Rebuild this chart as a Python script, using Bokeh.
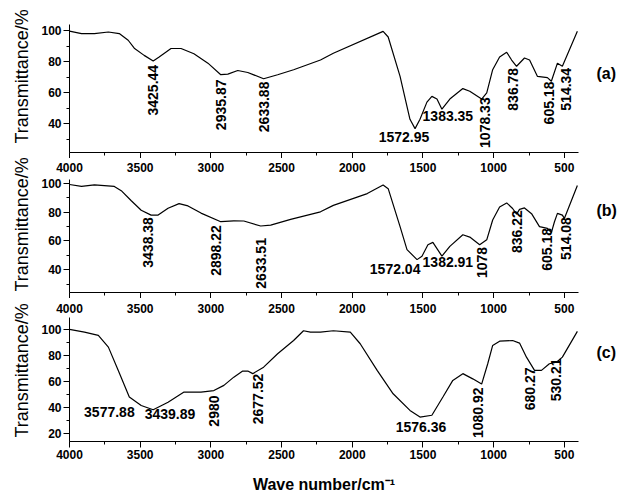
from math import pi
from bokeh.plotting import figure
from bokeh.models import Range1d, SingleIntervalTicker, FixedTicker, LinearAxis, Title
from bokeh.layouts import column
from bokeh.core.properties import value
from bokeh.embed import file_html
from bokeh.resources import INLINE

# ---------------- data (wave number cm^-1, transmittance %) ----------------
wave_a = [4000, 3915, 3824, 3725, 3648, 3585, 3542, 3472, 3408, 3366, 3282, 3211, 3120, 3021, 2930,
          2880, 2810, 2739, 2627, 2528, 2415, 2225, 2134, 1782, 1746, 1662, 1592, 1556, 1521, 1472,
          1437, 1401, 1366, 1310, 1218, 1169, 1085, 1049, 1007, 958, 908, 873, 838, 782, 746,
          690, 620, 592, 549, 514, 408]
trans_a = [99.6, 97.9, 98, 99, 98, 93.7, 88.6, 84, 80.4, 83, 88.4, 88.4, 85, 79, 71.6,
           72, 74.3, 73, 69, 71.6, 74.8, 81, 85.4, 99.4, 95.8, 70.5, 43, 37, 43, 54,
           57.7, 56, 49.5, 56, 62.7, 61, 56, 60, 74.8, 83, 86, 81, 77, 82.3, 81,
           70.5, 69.7, 67.4, 79, 77, 99.4]

wave_b = [4000, 3915, 3824, 3683, 3634, 3563, 3493, 3423, 3373, 3303, 3225, 3162, 3070, 2930, 2838,
          2767, 2648, 2577, 2436, 2225, 2134, 1894, 1782, 1746, 1662, 1613, 1542, 1507, 1465, 1430,
          1366, 1310, 1218, 1169, 1099, 1049, 1007, 958, 908, 866, 838, 817, 782, 732, 676,
          620, 592, 570, 549, 514, 500, 408]
trans_b = [99.3, 98, 99, 98, 95, 88, 81.4, 78, 78, 82.8, 86, 84.4, 79.4, 73.4, 74,
           73.9, 70.4, 71, 75, 80.3, 84.8, 93, 99, 96.4, 70, 54, 47, 49.4, 57.4, 59,
           49.4, 56.2, 64.3, 62.7, 57.4, 60.8, 74.6, 83.7, 86.5, 82.6, 78.7, 82, 83, 79, 70,
           68.8, 65.8, 73.4, 79.2, 78, 75.7, 98.6]

wave_c = [4000, 3894, 3796, 3725, 3655, 3577, 3493, 3408, 3303, 3190, 3070, 2979, 2908, 2838, 2775,
          2739, 2704, 2627, 2528, 2415, 2345, 2296, 2225, 2134, 2014, 1944, 1824, 1711, 1592, 1521,
          1437, 1359, 1289, 1218, 1148, 1085, 1042, 1007, 958, 866, 817, 768, 711, 662, 606,
          556, 514, 408]
trans_c = [100, 98, 95.4, 86.4, 68.5, 48, 41.5, 38.2, 44, 51.8, 51.8, 53, 57, 63.3, 68,
           68, 66, 71, 81.3, 91.5, 99, 98, 98, 99, 98, 89, 68.5, 50.5, 37.7, 32.6,
           34, 48, 60.8, 66, 62, 58, 73.6, 87.7, 91, 91.5, 89.5, 78.7, 68.5, 68.5, 73.6,
           74.8, 78.7, 98.5]

# peak annotations: vertical (rotated) and horizontal labels, anchored in data coordinates
rot_text_a = ["3425.44", "2935.87", "2633.88", "1078.33", "836.78", "605.18", "514.34"]
rot_x_a = [3408, 2930, 2627, 1063, 866, 606, 486]
rot_y_a = [77.9, 68.5, 67.2, 57.1, 76, 67.2, 76]
hor_text_a = ["1572.95", "1383.35"]
hor_x_a = [1634, 1324]
hor_y_a = [31.9, 45]

rot_text_b = ["3438.38", "2898.22", "2633.51", "1078", "836.22", "605.18", "514.08"]
rot_x_b = [3444, 2965, 2648, 1085, 838, 620, 486]
rot_y_b = [76.6, 71, 62, 55.9, 81.4, 69, 76.6]
hor_text_b = ["1572.04", "1382.91"]
hor_x_b = [1697, 1324]
hor_y_b = [40.7, 45.5]

rot_text_c = ["2980", "2677.52", "1080.92", "680.27", "530.21"]
rot_x_c = [2979, 2669, 1113, 746, 556]
rot_y_c = [49.2, 66, 55.4, 70.8, 77.7]
hor_text_c = ["3577.88", "3439.89", "1576.36"]
hor_x_c = [3718, 3289, 1514]
hor_y_c = [36.2, 34.6, 24.6]

panel_tags = ["(a)", "(b)", "(c)"]
tag_y = [72.2, 81.4, 82.3]
y_ranges = [(21.7, 103.8), (24.1, 102.8), (13.8, 109.2)]

FONT = "Liberation Sans"
X_TICK = 500
Y_TICK = 20


def style_axis(ax, show_labels=True):
    ax.axis_line_color = "black"
    ax.axis_line_width = 1
    ax.major_tick_line_color = "black"
    ax.minor_tick_line_color = "black"
    ax.major_tick_out = 6
    ax.major_tick_in = 0
    ax.minor_tick_out = 3
    ax.minor_tick_in = 0
    ax.major_label_text_font = FONT
    ax.major_label_text_font_style = "bold"
    ax.major_label_text_font_size = "12px"
    ax.major_label_text_color = "black" if show_labels else None
    ax.major_label_standoff = 2 if show_labels else 0


def make_panel(w, t, rt, rx, ry, ht, hx, hy, yr, height, top, bottom, tag, tagy,
               title_offset, last, above_standoff):
    p = figure(width=627, height=height, x_range=Range1d(4000, 400), y_range=Range1d(*yr),
               output_backend="svg", toolbar_location=None,
               min_border_left=69, min_border_right=49, min_border_top=top, min_border_bottom=bottom)
    p.outline_line_color = None
    p.grid.visible = False
    p.background_fill_color = "white"
    p.border_fill_color = "white"

    p.line(w, t, color="black", line_width=1.2)
    p.text(x=rx, y=ry, text=rt, angle=pi / 2, text_align="right", text_baseline="middle",
           text_font=value(FONT), text_font_style="bold", text_font_size="14px", text_color="black")
    p.text(x=hx, y=hy, text=ht, text_align="center", text_baseline="middle",
           text_font=value(FONT), text_font_style="bold", text_font_size="14px", text_color="black")

    xax = p.below[0]
    yax = p.left[0]
    xax.ticker = SingleIntervalTicker(interval=X_TICK, num_minor_ticks=2)
    yax.ticker = SingleIntervalTicker(interval=Y_TICK, num_minor_ticks=2)
    style_axis(xax, show_labels=last)
    style_axis(yax, show_labels=True)

    if above_standoff is not None:
        # tick labels of the panel above, drawn in this panel's top border
        up = LinearAxis(ticker=SingleIntervalTicker(interval=X_TICK, num_minor_ticks=2))
        style_axis(up, show_labels=True)
        up.axis_line_color = None
        up.major_tick_line_color = None
        up.minor_tick_line_color = None
        up.major_tick_out = 0
        up.minor_tick_out = 0
        up.major_label_standoff = above_standoff
        p.add_layout(up, "above")

    if last:
        xax.axis_label = "Wave number/cm\u207b\u00b9"
        xax.axis_label_text_font = FONT
        xax.axis_label_text_font_style = "bold"
        xax.axis_label_text_font_size = "16px"
        xax.axis_label_text_color = "black"
        xax.axis_label_standoff = 14

    # panel tag "(a)" etc. as a tick label of a bare right-hand axis
    tag_axis = LinearAxis(ticker=FixedTicker(ticks=[tagy]), major_label_overrides={tagy: tag})
    tag_axis.axis_line_color = None
    tag_axis.major_tick_line_color = None
    tag_axis.minor_tick_line_color = None
    tag_axis.major_tick_out = 0
    tag_axis.major_label_standoff = 18
    tag_axis.major_label_text_font = FONT
    tag_axis.major_label_text_font_style = "bold"
    tag_axis.major_label_text_font_size = "16px"
    tag_axis.major_label_text_color = "black"
    p.add_layout(tag_axis, "right")

    p.add_layout(Title(text="Transmittance/%", align="left", offset=title_offset, standoff=13,
                       text_font=FONT, text_font_size="18px", text_font_style="normal",
                       text_color="black"), "left")
    return p


pa = make_panel(wave_a, trans_a, rot_text_a, rot_x_a, rot_y_a, hor_text_a, hor_x_a, hor_y_a,
                y_ranges[0], 158, 24, 4, panel_tags[0], tag_y[0], 9, False, None)
pb = make_panel(wave_b, trans_b, rot_text_b, rot_x_b, rot_y_b, hor_text_b, hor_x_b, hor_y_b,
                y_ranges[1], 140, 21, 5, panel_tags[1], tag_y[1], 1, False, 8)
pc = make_panel(wave_c, trans_c, rot_text_c, rot_x_c, rot_y_c, hor_text_c, hor_x_c, hor_y_c,
                y_ranges[2], 198, 19, 55, panel_tags[2], tag_y[2], 4, True, 5)

layout = column(pa, pb, pc, spacing=0)
open("out.html", "w").write(file_html(layout, INLINE))
